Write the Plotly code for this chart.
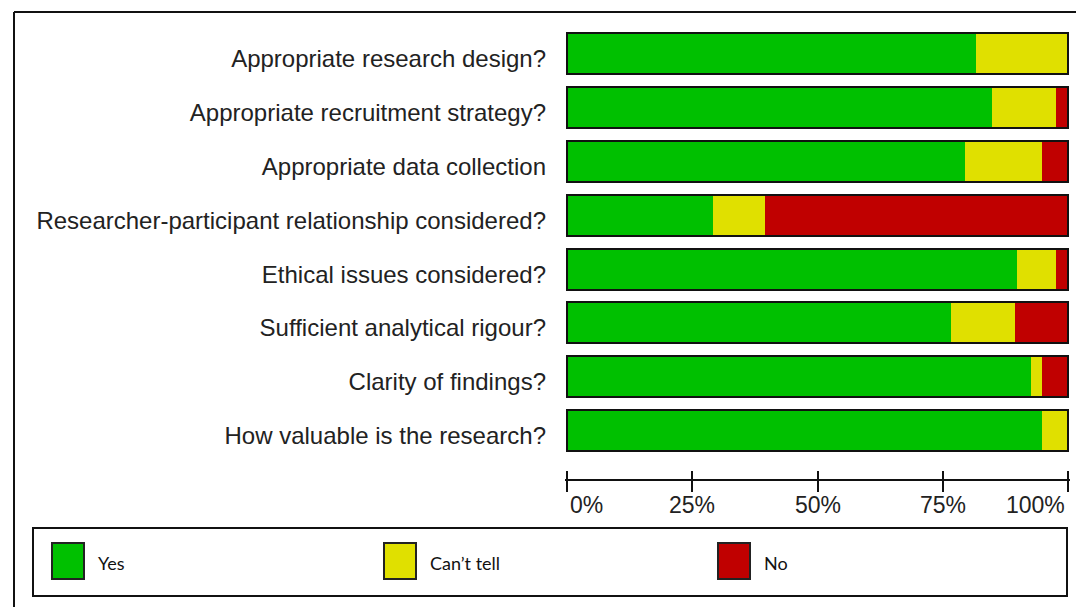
import plotly.graph_objects as go

# ---- data ----
questions = [
    "Appropriate research design?",
    "Appropriate recruitment strategy?",
    "Appropriate data collection",
    "Researcher-participant relationship considered?",
    "Ethical issues considered?",
    "Sufficient analytical rigour?",
    "Clarity of findings?",
    "How valuable is the research?",
]
series_names = ["Yes", "Can\u2019t tell", "No"]
yes_pct = [81.7, 84.8, 79.5, 29.1, 89.9, 76.7, 92.6, 94.9]
cant_tell_pct = [18.3, 12.8, 15.4, 10.5, 7.8, 12.8, 2.3, 5.1]
no_pct = [0.0, 2.4, 5.1, 60.4, 2.3, 10.5, 5.1, 0.0]
tick_values = [0, 25, 50, 75, 100]
tick_labels = ["0%", "25%", "50%", "75%", "100%"]

colors = ["#00c000", "#e0e000", "#c00000"]

# ---- layout geometry ----
W, H = 1076, 607
L, R, T, B = 565, 6, 27, 128
PW = W - L - R
PH = H - T - B


def xp(px):
    return (px - L) / PW


def yp(py):
    return (H - B - py) / PH


fig = go.Figure()
for name, vals, col in zip(series_names, [yes_pct, cant_tell_pct, no_pct], colors):
    fig.add_trace(go.Bar(
        y=questions, x=vals, name=name, orientation="h",
        marker=dict(color=col, line=dict(width=0)),
        xaxis="x", yaxis="y", showlegend=False,
    ))

totals = [a + b + c for a, b, c in zip(yes_pct, cant_tell_pct, no_pct)]
fig.add_trace(go.Bar(
    y=questions, x=totals, orientation="h",
    marker=dict(color="rgba(0,0,0,0)", line=dict(color="#111111", width=2)),
    xaxis="x2", yaxis="y", showlegend=False, hoverinfo="skip",
))

fig.update_layout(
    width=W, height=H,
    margin=dict(l=L, r=R, t=T, b=B),
    paper_bgcolor="white", plot_bgcolor="white",
    barmode="stack", bargap=0.238,
    showlegend=False,
    font=dict(family="Liberation Sans, Arial, sans-serif", color="#222222"),
    xaxis=dict(
        range=[-0.4, 100.4], tickvals=tick_values, showticklabels=False,
        showgrid=False, zeroline=False, showline=True, linecolor="#111111",
        linewidth=2, ticks="outside", ticklen=11, tickwidth=2, tickcolor="#111111",
    ),
    xaxis2=dict(
        range=[-0.4, 100.4], overlaying="x", side="bottom", anchor="y",
        tickvals=tick_values, showticklabels=False, showgrid=False,
        zeroline=False, showline=False, ticks="inside", ticklen=8,
        tickwidth=2, tickcolor="#111111",
    ),
    yaxis=dict(
        categoryorder="array", categoryarray=questions,
        range=[len(questions) - 1 + 0.9, -0.5],
        showgrid=False, zeroline=False, showline=False, ticks="",
        ticklabelstandoff=18, ticklabelshift=-5,
        tickfont=dict(size=24, color="#222222"),
    ),
)

shapes = []
annotations = []
# x tick labels: first left-aligned, last right-aligned, others centred
n_ticks = len(tick_values)
for i, (tv, tl) in enumerate(zip(tick_values, tick_labels)):
    anchor = "left" if i == 0 else ("right" if i == n_ticks - 1 else "center")
    annotations.append(dict(xref="x", yref="paper", x=tv, y=yp(490),
                            text=tl, showarrow=False, xanchor=anchor, yanchor="top",
                            xshift=1 if i == 0 else (-1 if i == n_ticks - 1 else 0),
                            font=dict(size=23, color="#222222")))
# outer frame (top and left edges visible)
shapes.append(dict(type="line", xref="paper", yref="paper",
                   x0=xp(14), x1=xp(W + 5), y0=yp(12), y1=yp(12),
                   line=dict(color="#111111", width=2)))
shapes.append(dict(type="line", xref="paper", yref="paper",
                   x0=xp(14), x1=xp(14), y0=yp(12), y1=yp(H + 5),
                   line=dict(color="#111111", width=2)))
# legend box
shapes.append(dict(type="rect", xref="paper", yref="paper",
                   x0=xp(33), x1=xp(1067), y0=yp(528), y1=yp(596),
                   line=dict(color="#111111", width=2), fillcolor="white"))
item_x = [52, 384, 718]
for name, col, x0 in zip(series_names, colors, item_x):
    shapes.append(dict(type="rect", xref="paper", yref="paper",
                       x0=xp(x0), x1=xp(x0 + 32), y0=yp(543), y1=yp(579),
                       line=dict(color="#222222", width=2), fillcolor=col))
    annotations.append(dict(xref="paper", yref="paper", x=xp(x0 + 44), y=yp(563),
                            text=name, showarrow=False, xanchor="left", yanchor="middle",
                            font=dict(family="Lato, Noto Sans, sans-serif", size=18,
                                      color="#111111")))
fig.update_layout(shapes=shapes, annotations=annotations)

fig.write_html("out.html", config={"displayModeBar": False},
               post_script="document.body.style.margin='0';document.body.style.overflow='hidden';")
